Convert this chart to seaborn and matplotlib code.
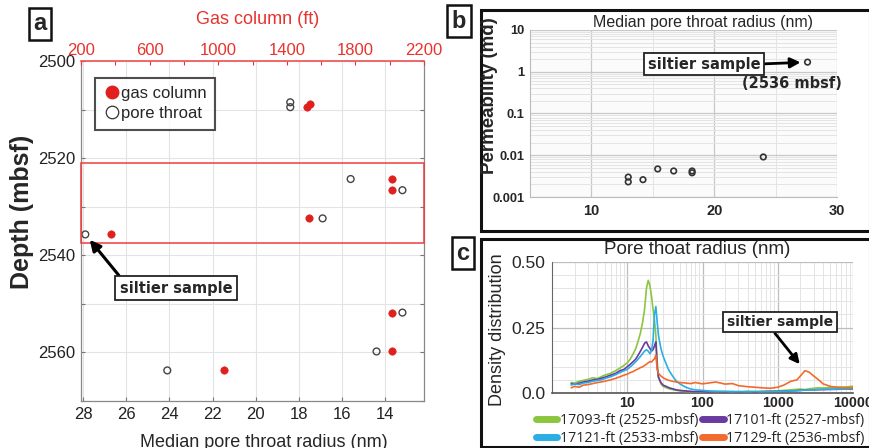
import numpy as np
import pandas as pd
import matplotlib
matplotlib.use("Agg")
import matplotlib.pyplot as plt
import matplotlib.transforms as mtransforms
import seaborn as sns
from matplotlib.patches import Rectangle
from matplotlib.lines import Line2D
from matplotlib.ticker import FixedLocator, LogLocator, NullFormatter, MultipleLocator

# ---------------- Panel a data ----------------
gas_depth = [2509.5, 2508.8, 2524.3, 2526.6, 2532.4, 2535.7, 2551.8, 2559.8, 2563.7]
gas_column_ft = [1520, 1535, 2015, 2015, 1528, 375, 2015, 2015, 1031]
pore_depth = [2508.5, 2509.5, 2524.3, 2526.6, 2532.4, 2535.7, 2551.8, 2559.8, 2563.7]
pore_radius_nm = [18.4, 18.4, 15.6, 13.2, 16.9, 27.9, 13.2, 14.4, 24.1]
a_xticks = [28, 26, 24, 22, 20, 18, 16, 14]
a_top_ticks = [200, 400, 600, 800, 1000, 1200, 1400, 1600, 1800, 2000, 2200]
a_top_labels = ["200", "", "600", "", "1000", "", "1400", "", "1800", "", "2200"]
a_yticks = [2500, 2510, 2520, 2530, 2540, 2550, 2560, 2570]
a_ylabels = ["2500", "", "2520", "", "2540", "", "2560", ""]
box_depth_top, box_depth_bottom = 2521.0, 2537.5

# ---------------- Panel b data ----------------
b_radius = [13.0, 13.0, 14.2, 15.4, 16.7, 18.2, 18.2, 24.0, 27.6]
b_perm = [0.0030, 0.0023, 0.0026, 0.0047, 0.0042, 0.0038, 0.0042, 0.0091, 1.7]
b_xticks = [10, 20, 30]
b_yticks = [0.001, 0.01, 0.1, 1, 10]
b_ylabels = ["0.001", "0.01", "0.1", "1", "10"]

# ---------------- Panel c data ----------------
radius_c = [1.8, 2.0, 2.3, 2.6, 3.0, 3.5, 4.0, 4.5, 5.0, 6.0, 7.0, 8.0, 9.0, 10, 11, 12,
            13, 14, 15, 16, 17, 18, 19, 20, 21, 22, 23, 24, 25, 26, 28, 30, 33, 36, 40,
            45, 50, 60, 70, 80, 100, 120, 150, 200, 250, 300, 400, 500, 600, 800, 1000,
            1200, 1500, 1800, 2000, 2300, 2600, 3000, 3500, 4000, 5000, 6000, 8000, 10000]
green_17093 = [0.040, 0.038, 0.045, 0.048, 0.052, 0.058, 0.055, 0.062, 0.068, 0.075, 0.085,
               0.095, 0.105, 0.115, 0.130, 0.150, 0.170, 0.200, 0.230, 0.270, 0.320, 0.400,
               0.430, 0.410, 0.370, 0.320, 0.280, 0.220, 0.120, 0.060, 0.035, 0.025, 0.020,
               0.016, 0.013, 0.010, 0.008, 0.006, 0.005, 0.004, 0.004, 0.005, 0.004, 0.006,
               0.005, 0.004, 0.006, 0.005, 0.006, 0.007, 0.008, 0.010, 0.012, 0.014, 0.015,
               0.013, 0.016, 0.018, 0.020, 0.019, 0.021, 0.022, 0.023, 0.026]
purple_17101 = [0.035, 0.033, 0.038, 0.042, 0.045, 0.050, 0.052, 0.056, 0.060, 0.068, 0.075,
                0.085, 0.090, 0.100, 0.110, 0.120, 0.130, 0.145, 0.160, 0.175, 0.190, 0.195,
                0.180, 0.170, 0.160, 0.165, 0.180, 0.195, 0.100, 0.060, 0.040, 0.030, 0.025,
                0.020, 0.016, 0.012, 0.010, 0.008, 0.006, 0.005, 0.005, 0.004, 0.005, 0.004,
                0.005, 0.004, 0.005, 0.004, 0.005, 0.006, 0.006, 0.007, 0.008, 0.009, 0.010,
                0.011, 0.012, 0.012, 0.013, 0.013, 0.014, 0.014, 0.015, 0.015]
blue_17121 = [0.030, 0.035, 0.032, 0.038, 0.040, 0.045, 0.048, 0.050, 0.055, 0.062, 0.070,
              0.078, 0.085, 0.090, 0.100, 0.110, 0.120, 0.130, 0.140, 0.150, 0.160, 0.165,
              0.160, 0.150, 0.160, 0.200, 0.300, 0.330, 0.270, 0.220, 0.170, 0.140, 0.110,
              0.085, 0.065, 0.045, 0.035, 0.022, 0.015, 0.012, 0.010, 0.008, 0.007, 0.006,
              0.005, 0.006, 0.005, 0.006, 0.005, 0.006, 0.006, 0.007, 0.008, 0.009, 0.010,
              0.011, 0.012, 0.012, 0.013, 0.014, 0.014, 0.015, 0.015, 0.016]
orange_17129 = [0.020, 0.025, 0.022, 0.030, 0.032, 0.036, 0.040, 0.042, 0.045, 0.050, 0.056,
                0.062, 0.068, 0.072, 0.078, 0.082, 0.088, 0.092, 0.097, 0.100, 0.105, 0.110,
                0.115, 0.120, 0.118, 0.125, 0.130, 0.145, 0.090, 0.075, 0.065, 0.058, 0.052,
                0.048, 0.045, 0.042, 0.040, 0.038, 0.036, 0.040, 0.035, 0.038, 0.042, 0.034,
                0.036, 0.028, 0.024, 0.022, 0.020, 0.018, 0.022, 0.030, 0.045, 0.050, 0.065,
                0.085, 0.080, 0.065, 0.050, 0.035, 0.025, 0.022, 0.020, 0.020]
c_series_names = ["17093-ft (2525-mbsf)", "17101-ft (2527-mbsf)",
                  "17121-ft (2533-mbsf)", "17129-ft (2536-mbsf)"]
c_colors = ["#8cc63e", "#6a3aa0", "#2aaee3", "#f26a2e"]
c_xticks = [10, 100, 1000, 10000]
c_yticks = [0.0, 0.25, 0.50]
c_ylabels = ["0.0", "0.25", "0.50"]

# ---------------- figure ----------------
sns.set_style("ticks")
plt.rcParams['font.family'] = ['Liberation Sans', 'DejaVu Sans']

W, H = 870, 448
fig = plt.figure(figsize=(8.7, 4.48), dpi=100)


def fx(px):
    return px / W


def fy(py):
    return 1 - py / H


def add_axes_px(l, t, r, b):
    return fig.add_axes([fx(l), fy(b), (r - l) / W, (b - t) / H])


# ======== Panel a ========
axa = add_axes_px(81, 61, 424, 401)
sns.scatterplot(x=pore_radius_nm, y=pore_depth, ax=axa, marker='o', s=24,
                facecolor='none', edgecolor='#444444', linewidth=1.0, zorder=4)
axa.set_xlim(28.1, 12.2)
axa.set_ylim(2570, 2500)
axa.set_xticks(a_xticks)
axa.set_xticklabels([str(t) for t in a_xticks])
axa.set_yticks(a_yticks)
axa.set_yticklabels(a_ylabels)
axa.grid(True, color='#e3e3e3', lw=0.8)
axa.tick_params(direction='in', length=3, labelsize=12, right=True, color='#777777',
                labelcolor='#222222', pad=4)
for s in ['left', 'right', 'bottom']:
    axa.spines[s].set_color('#888888')
    axa.spines[s].set_linewidth(0.9)
axa.spines['top'].set_visible(False)
axa.set_xlabel("")
axa.set_ylabel("")

axt = axa.twiny()
sns.scatterplot(x=gas_column_ft, y=gas_depth, ax=axt, marker='o', s=28,
                color='#e0201e', edgecolor='#e0201e', linewidth=0.5, zorder=5)
axt.set_xlim(200, 2200)
axt.set_xticks(a_top_ticks)
axt.set_xticklabels(a_top_labels)
axt.tick_params(axis='x', direction='in', length=3, labelsize=12, colors='#e8332f', pad=2)
for s in ['left', 'right', 'bottom']:
    axt.spines[s].set_visible(False)
axt.spines['top'].set_color('#f05050')
axt.spines['top'].set_linewidth(1.2)
axt.set_xlabel("")
axt.set_ylabel("")

trans = mtransforms.blended_transform_factory(axa.transAxes, axa.transData)
axa.add_patch(Rectangle((0, box_depth_top), 1, box_depth_bottom - box_depth_top,
                        transform=trans, fill=False, edgecolor='#f03c3c', lw=1.1,
                        zorder=6, clip_on=False))

handles = [Line2D([], [], marker='o', ls='none', markersize=9, markerfacecolor='#e0201e',
                  markeredgecolor='#e0201e'),
           Line2D([], [], marker='o', ls='none', markersize=9, markerfacecolor='white',
                  markeredgecolor='#333333', markeredgewidth=0.9)]
leg = axt.legend(handles, ["gas column", "pore throat"], loc='upper left',
                 bbox_to_anchor=(0.04, 0.95), fontsize=12, frameon=True, fancybox=False,
                 handletextpad=0.0, borderpad=0.5, labelspacing=0.3, handlelength=1.1,
                 borderaxespad=0)
leg.get_frame().set_edgecolor('#222222')
leg.get_frame().set_linewidth(1.5)
leg.set_zorder(10)

axa.annotate("siltier sample", xy=(pore_radius_nm[5], pore_depth[5]),
             xytext=(fx(176), fy(288)), textcoords='figure fraction',
             ha='center', va='center', fontsize=10.5, fontweight='bold',
             family='DejaVu Sans',
             bbox=dict(boxstyle='square,pad=0.3', fc='white', ec='#222222', lw=1.3),
             arrowprops=dict(arrowstyle='-|>', color='black', lw=2.2, mutation_scale=16,
                             shrinkA=0, shrinkB=5, relpos=(0.03, 1.0)),
             zorder=12)

fig.text(fx(22), fy(212), "Depth (mbsf)", rotation=90, ha='center', va='center',
         fontsize=18, fontweight='bold')
fig.text(fx(264), fy(442), "Median pore throat radius (nm)", ha='center', va='center',
         fontsize=13)
fig.text(fx(258), fy(20), "Gas column (ft)", ha='center', va='center', fontsize=13,
         color='#e8332f')

# ======== Panel b ========
axb = add_axes_px(530, 30, 837, 197)
sns.scatterplot(x=b_radius, y=b_perm, ax=axb, marker='o', s=16, facecolor='none',
                edgecolor='#333333', linewidth=1.2, zorder=4)
axb.set_yscale('log')
axb.set_xlim(5, 30)
axb.set_ylim(0.001, 10)
axb.set_xticks(b_xticks)
axb.set_xticklabels([str(t) for t in b_xticks], fontweight='bold')
axb.xaxis.set_minor_locator(FixedLocator([15, 25]))
axb.set_yticks(b_yticks)
axb.set_yticklabels(b_ylabels, fontweight='bold')
axb.yaxis.set_minor_locator(LogLocator(base=10, subs=np.arange(2, 10)))
axb.yaxis.set_minor_formatter(NullFormatter())
axb.grid(True, which='major', color='#c8c8c8', lw=0.9)
axb.grid(True, which='minor', color='#e4e4e4', lw=0.7)
axb.set_facecolor('#fbfbfb')
axb.tick_params(which='both', length=0, pad=4)
axb.tick_params(axis='y', labelsize=9.3)
axb.tick_params(axis='x', labelsize=10.5, pad=5)
for s in axb.spines.values():
    s.set_visible(False)
axb.spines['left'].set_visible(True)
axb.spines['left'].set_color('#bbbbbb')
axb.spines['bottom'].set_visible(True)
axb.spines['bottom'].set_color('#bbbbbb')
axb.set_xlabel("")
axb.set_ylabel("")

fig.text(fx(490), fy(96), "Permeability (md)", rotation=90, ha='center', va='center',
         fontsize=13.5, fontweight='bold')
fig.text(fx(703), fy(22), "Median pore throat radius (nm)", ha='center', va='center',
         fontsize=11.5)
axb.annotate("siltier sample", xy=(b_radius[-1], b_perm[-1]),
             xytext=(fx(704), fy(64)), textcoords='figure fraction',
             ha='center', va='center', fontsize=10.5, fontweight='bold',
             family='DejaVu Sans',
             bbox=dict(boxstyle='square,pad=0.25', fc='white', ec='#222222', lw=1.3),
             arrowprops=dict(arrowstyle='-|>', color='black', lw=2.0, mutation_scale=15,
                             shrinkA=0, shrinkB=5, relpos=(1.0, 0.5)),
             zorder=12)
fig.text(fx(792), fy(83), "(2536 mbsf)", ha='center', va='center', fontsize=10.5,
         fontweight='bold', family='DejaVu Sans')

# ======== Panel c ========
axc = add_axes_px(552, 262, 853, 393)
c_df = pd.DataFrame({
    "radius": radius_c * 4,
    "density": green_17093 + purple_17101 + blue_17121 + orange_17129,
    "sample": sum([[n] * len(radius_c) for n in c_series_names], []),
})
sns.lineplot(data=c_df, x="radius", y="density", hue="sample", palette=c_colors,
             hue_order=c_series_names, ax=axc, lw=1.2, legend=False, zorder=4)
axc.set_xscale('log')
axc.set_xlim(1, 10000)
axc.set_ylim(0, 0.5)
axc.set_xticks(c_xticks)
axc.set_xticklabels([str(t) for t in c_xticks], fontweight='bold')
axc.xaxis.set_minor_locator(LogLocator(base=10, subs=np.arange(2, 10)))
axc.xaxis.set_minor_formatter(NullFormatter())
axc.set_yticks(c_yticks)
axc.set_yticklabels(c_ylabels)
axc.yaxis.set_minor_locator(MultipleLocator(0.05))
axc.grid(True, which='major', color='#bdbdbd', lw=0.9)
axc.grid(True, which='minor', color='#e4e4e4', lw=0.7)
axc.tick_params(which='both', length=0)
axc.tick_params(axis='y', labelsize=12.5, pad=5)
axc.tick_params(axis='x', labelsize=10.3, pad=2)
for s in ['top', 'right']:
    axc.spines[s].set_visible(False)
axc.spines['left'].set_color('#666666')
axc.spines['bottom'].set_color('#555555')
axc.spines['bottom'].set_linewidth(1.2)
axc.set_xlabel("")
axc.set_ylabel("")

fig.text(fx(498), fy(330), "Density distribution", rotation=90, ha='center', va='center',
         fontsize=13)
fig.text(fx(697), fy(250), "Pore thoat radius (nm)", ha='center', va='center',
         fontsize=13.5)
peak_i = 55
axc.annotate("siltier sample", xy=(radius_c[peak_i], orange_17129[peak_i]),
             xytext=(fx(780), fy(322)), textcoords='figure fraction',
             ha='center', va='center', fontsize=10, fontweight='bold',
             family='DejaVu Sans',
             bbox=dict(boxstyle='square,pad=0.25', fc='white', ec='#222222', lw=1.3),
             arrowprops=dict(arrowstyle='-|>', color='black', lw=2.0, mutation_scale=14,
                             shrinkA=0, shrinkB=6, relpos=(0.42, 0.0)),
             zorder=12)

# legend laid out row-wise: (green, purple) / (blue, orange)
leg_order = [0, 2, 1, 3]
c_handles = [Line2D([], [], color=c_colors[i], lw=5) for i in leg_order]
c_labels = [c_series_names[i] for i in leg_order]
fig.legend(c_handles, c_labels, loc='upper left', ncol=2,
           bbox_to_anchor=(fx(536), fy(413)), frameon=False,
           handlelength=1.5, handletextpad=0.15, columnspacing=0.3, labelspacing=0.2,
           borderaxespad=0, borderpad=0.0,
           prop={'family': ['Open Sans', 'DejaVu Sans'], 'size': 10.3})

# ======== frames and panel labels ========
fig.add_artist(Rectangle((fx(481), fy(231)), (870 - 481) / W, (231 - 10) / H,
                         transform=fig.transFigure, fill=False, ec='#111111', lw=2.2))
fig.add_artist(Rectangle((fx(481), fy(447)), (870 - 481) / W, (447 - 239) / H,
                         transform=fig.transFigure, fill=False, ec='#111111', lw=2.2))
for lab, (px, py) in {"a": (40, 24), "b": (459, 21), "c": (463, 253)}.items():
    fig.text(fx(px), fy(py), lab, ha='center', va='center', fontsize=17, fontweight='bold',
             bbox=dict(boxstyle='square,pad=0.2', fc='white', ec='#111111', lw=1.8))

fig.savefig("out.png", dpi=100)
